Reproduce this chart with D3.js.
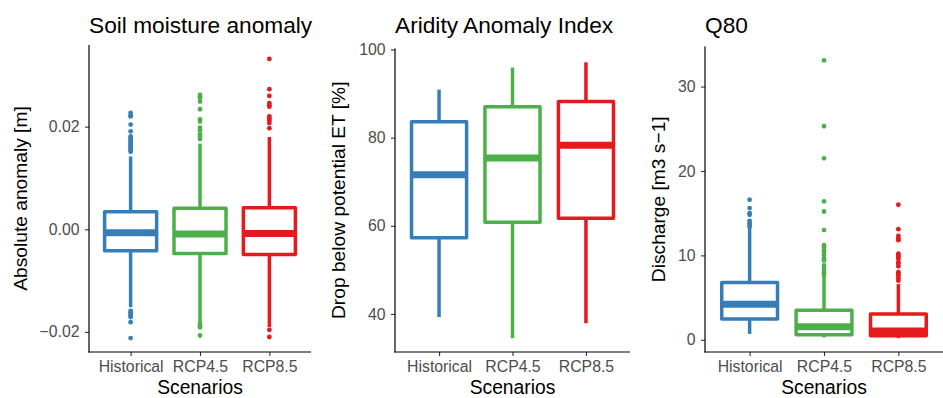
<!DOCTYPE html>
<html>
<head>
<meta charset="utf-8">
<script src="https://cdn.jsdelivr.net/npm/d3@7"></script>
<style>
  body { margin: 0; background: #fff; }
  text { font-family: "Liberation Sans", Arial, sans-serif; }
</style>
</head>
<body>
<script>
const scenarios = ["Historical", "RCP4.5", "RCP8.5"];
const colors = ["#377EB8", "#4DAF4A", "#E41A1C"];

// Soil moisture anomaly (box stats)
const soilLower = [-0.0152, -0.0181, -0.0191];
const soilQ1 = [-0.0042, -0.0047, -0.0049];
const soilMedian = [-0.0007, -0.0009, -0.0008];
const soilQ3 = [0.0034, 0.0041, 0.0042];
const soilUpper = [0.0142, 0.0167, 0.0180];
const soilOutliers = [
  [0.0227, 0.0222, 0.0220, 0.0204, 0.0191, 0.0181, 0.0178, 0.0175, 0.0172, 0.0169, 0.0166, 0.0163, 0.0160, 0.0157, 0.0154, 0.0151,
   -0.0159, -0.0162, -0.0165, -0.0168, -0.0171, -0.0181, -0.0212],
  [0.0262, 0.0259, 0.0256, 0.0249, 0.0234, 0.0214, 0.0210, 0.0198, 0.0193, 0.0185, 0.0181, 0.0176,
   -0.0184, -0.0188, -0.0191, -0.0207],
  [0.0332, 0.0273, 0.0260, 0.0246, 0.0242, 0.0239, 0.0220, 0.0216, 0.0212, 0.0207, 0.0197,
   -0.0196, -0.0210]
];
const soilTicks = [-0.02, 0, 0.02];

// Aridity anomaly index
const aridLower = [39.3, 34.5, 37.9];
const aridQ1 = [57.3, 60.8, 61.7];
const aridMedian = [71.6, 75.4, 78.3];
const aridQ3 = [83.6, 87.0, 88.2];
const aridUpper = [90.9, 95.9, 97.1];
const aridOutliers = [[], [], []];
const aridTicks = [40, 60, 80, 100];

// Q80 discharge
const q80Lower = [0.7, 0.27, 0.2];
const q80Q1 = [2.45, 0.6, 0.48];
const q80Median = [4.2, 1.55, 1.05];
const q80Q3 = [6.8, 3.5, 3.05];
const q80Upper = [13.25, 7.6, 6.6];
const q80Outliers = [
  [16.6, 15.6, 15.0, 14.8, 14.1, 13.8, 13.6, 13.4],
  [33.1, 25.3, 21.5, 16.4, 15.2, 13.0, 11.2, 11.0, 10.6, 10.3, 10.0, 9.6, 9.4, 8.8, 8.4, 8.0, 7.7],
  [16.0, 13.1, 12.3, 12.0, 11.8, 10.2, 10.0, 9.8, 9.6, 9.2, 9.0, 8.7, 8.0, 7.8, 7.6, 7.3, 7.0]
];
const q80Ticks = [0, 10, 20, 30];

const panels = [
  { title: "Soil moisture anomaly", ylab: "Absolute anomaly [m]", left: 89, right: 311, top: 45, ylabX: 27,
    lo: soilLower, q1: soilQ1, med: soilMedian, q3: soilQ3, hi: soilUpper, out: soilOutliers,
    ticks: soilTicks, fmt: d3.format(".2f") },
  { title: "Aridity Anomaly Index", ylab: "Drop below potential ET [%]", left: 395, right: 630, top: 48.5, ylabX: 345,
    lo: aridLower, q1: aridQ1, med: aridMedian, q3: aridQ3, hi: aridUpper, out: aridOutliers,
    ticks: aridTicks, fmt: d3.format("d") },
  { title: "Q80", ylab: "Discharge [m3 s\u22121]", left: 705, right: 943, top: 46.5, ylabX: 665,
    lo: q80Lower, q1: q80Q1, med: q80Median, q3: q80Q3, hi: q80Upper, out: q80Outliers,
    ticks: q80Ticks, fmt: d3.format("d") }
];

const W = 943, H = 398, panelBottom = 352;

const svg = d3.select("body").append("svg")
  .attr("width", W)
  .attr("height", H);

panels.forEach(p => {
  const g = svg.append("g");

  const x = d3.scalePoint()
    .domain(scenarios)
    .range([p.left, p.right])
    .padding(0.6);
  const boxW = x.step() * 0.75;

  // ggplot style 5% expansion on the data range
  const all = d3.merge([p.lo, p.hi, d3.merge(p.out)]);
  const [mn, mx] = d3.extent(all);
  const pad = (mx - mn) * 0.05;
  const y = d3.scaleLinear().domain([mn - pad, mx + pad]).range([panelBottom, p.top]);

  const idx = d3.range(scenarios.length);

  // whiskers
  g.selectAll(".whisk-hi").data(idx).join("line")
    .attr("x1", i => x(scenarios[i])).attr("x2", i => x(scenarios[i]))
    .attr("y1", i => y(p.q3[i])).attr("y2", i => y(p.hi[i]))
    .attr("stroke", i => colors[i]).attr("stroke-width", 3.5);
  g.selectAll(".whisk-lo").data(idx).join("line")
    .attr("x1", i => x(scenarios[i])).attr("x2", i => x(scenarios[i]))
    .attr("y1", i => y(p.q1[i])).attr("y2", i => y(p.lo[i]))
    .attr("stroke", i => colors[i]).attr("stroke-width", 3.5);

  // boxes
  g.selectAll(".box").data(idx).join("rect")
    .attr("x", i => x(scenarios[i]) - boxW / 2)
    .attr("width", boxW)
    .attr("y", i => y(p.q3[i]))
    .attr("height", i => y(p.q1[i]) - y(p.q3[i]))
    .attr("fill", "#fff")
    .attr("stroke", i => colors[i])
    .attr("stroke-width", 3.5)
    .attr("stroke-linejoin", "round");

  // medians
  g.selectAll(".med").data(idx).join("line")
    .attr("x1", i => x(scenarios[i]) - boxW / 2)
    .attr("x2", i => x(scenarios[i]) + boxW / 2)
    .attr("y1", i => y(p.med[i])).attr("y2", i => y(p.med[i]))
    .attr("stroke", i => colors[i]).attr("stroke-width", 7);

  // outliers
  const pts = [];
  p.out.forEach((arr, i) => arr.forEach(v => pts.push({ i, v })));
  g.selectAll(".pt").data(pts).join("circle")
    .attr("cx", d => x(scenarios[d.i]))
    .attr("cy", d => y(d.v))
    .attr("r", 2.4)
    .attr("fill", d => colors[d.i]);

  // axes
  const yAxis = g.append("g")
    .attr("transform", `translate(${p.left},0)`)
    .call(d3.axisLeft(y).tickValues(p.ticks).tickFormat(p.fmt).tickSize(4).tickPadding(5.5));
  const xAxis = g.append("g")
    .attr("transform", `translate(0,${panelBottom})`)
    .call(d3.axisBottom(x).tickSize(4).tickPadding(5));

  [yAxis, xAxis].forEach(a => {
    a.select(".domain").remove();
    a.selectAll(".tick line").attr("stroke", "#333").attr("stroke-width", 1.1);
    a.selectAll(".tick text")
      .attr("fill", "#4d4d4d")
      .style("font-size", "15.8px")
      .style("font-family", "'Liberation Sans', Arial, sans-serif");
  });

  // axis lines
  g.append("line")
    .attr("x1", p.left).attr("x2", p.left)
    .attr("y1", p.top).attr("y2", panelBottom + 0.6)
    .attr("stroke", "#000").attr("stroke-width", 1.2);
  g.append("line")
    .attr("x1", p.left - 0.6).attr("x2", p.right)
    .attr("y1", panelBottom).attr("y2", panelBottom)
    .attr("stroke", "#000").attr("stroke-width", 1.2);

  // titles
  g.append("text")
    .attr("x", p.left)
    .attr("y", 33)
    .style("font-size", "22.7px")
    .attr("fill", "#000")
    .text(p.title);

  g.append("text")
    .attr("x", (p.left + p.right) / 2)
    .attr("y", 394)
    .attr("text-anchor", "middle")
    .style("font-size", "19.3px")
    .attr("fill", "#000")
    .text("Scenarios");

  g.append("text")
    .attr("transform", `translate(${p.ylabX},${(p.top + panelBottom) / 2}) rotate(-90)`)
    .attr("text-anchor", "middle")
    .style("font-size", "19.2px")
    .attr("fill", "#000")
    .text(p.ylab);
});
</script>
</body>
</html>
